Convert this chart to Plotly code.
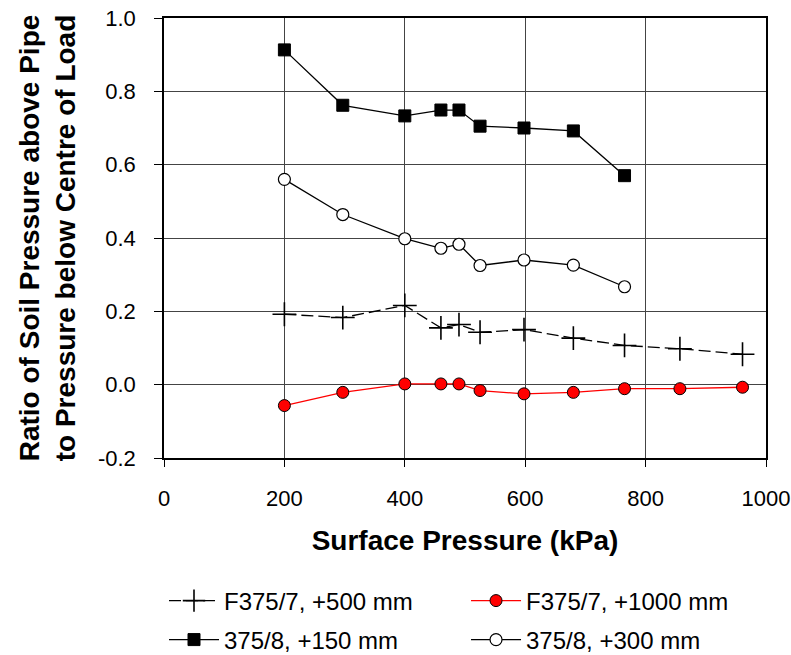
import plotly.graph_objects as go

x_plus = [200, 297, 400, 460, 490, 525, 598, 680, 765, 857, 961]
y_plus = [0.192, 0.183, 0.216, 0.155, 0.164, 0.143, 0.150, 0.127, 0.107, 0.098, 0.083]

x_red = [200, 297, 400, 460, 490, 525, 598, 680, 765, 857, 961]
y_red = [-0.057, -0.021, 0.002, 0.002, 0.002, -0.016, -0.025, -0.021, -0.011, -0.011, -0.007]

x_sq = [200, 297, 400, 460, 490, 525, 598, 680, 765]
y_sq = [0.913, 0.762, 0.733, 0.749, 0.749, 0.705, 0.700, 0.692, 0.570]

x_circ = [200, 297, 400, 460, 490, 525, 598, 680, 765]
y_circ = [0.560, 0.464, 0.398, 0.372, 0.383, 0.325, 0.340, 0.326, 0.267]

names = ["F375/7, +500 mm", "F375/7, +1000 mm", "375/8, +150 mm", "375/8, +300 mm"]

x_ticks = [0, 200, 400, 600, 800, 1000]
y_ticks = [-0.2, 0.0, 0.2, 0.4, 0.6, 0.8, 1.0]
y_ticktext = ["-0.2", "0.0", "0.2", "0.4", "0.6", "0.8", "1.0"]

FONT = "Liberation Sans, Arial, sans-serif"

fig = go.Figure()
fig.add_trace(go.Scatter(x=x_plus, y=y_plus, name=names[0], mode="lines+markers", legend="legend",
                         line=dict(color="black", width=1.3, dash="12px,5px"),
                         marker=dict(symbol="cross-thin", size=17, line=dict(color="black", width=1.6))))
fig.add_trace(go.Scatter(x=x_red, y=y_red, name=names[1], mode="lines+markers", legend="legend2",
                         line=dict(color="red", width=1.3),
                         marker=dict(symbol="circle", size=12, color="red", line=dict(color="black", width=1))))
fig.add_trace(go.Scatter(x=x_sq, y=y_sq, name=names[2], mode="lines+markers", legend="legend3",
                         line=dict(color="black", width=1.3),
                         marker=dict(symbol="square", size=12, color="black", line=dict(color="black", width=1))))
fig.add_trace(go.Scatter(x=x_circ, y=y_circ, name=names[3], mode="lines+markers", legend="legend4",
                         line=dict(color="black", width=1.3),
                         marker=dict(symbol="circle", size=12, color="white", line=dict(color="black", width=1.2))))

legend_common = dict(orientation="h", xanchor="left", yanchor="middle",
                     font=dict(size=24, family=FONT), itemwidth=50, bgcolor="rgba(0,0,0,0)")

row1_y, row2_y = -0.325, -0.4136
col1_x, col2_x = 0.0, 0.5017

fig.update_layout(
    width=791, height=655,
    margin=dict(l=164, r=25, t=18, b=197, autoexpand=False),
    plot_bgcolor="white", paper_bgcolor="white",
    font=dict(family=FONT, size=21, color="black"),
    xaxis=dict(range=[0, 1000], tickvals=x_ticks, ticks="outside", ticklen=7,
               tickcolor="black", showgrid=True, gridcolor="#444444", gridwidth=1,
               showline=True, linecolor="black", linewidth=1.5, mirror=True, zeroline=False,
               ticklabelstandoff=13,
               title=dict(text="<b>Surface Pressure (kPa)</b>", font=dict(size=28), standoff=20),
               tickfont=dict(size=22)),
    yaxis=dict(range=[-0.2, 1.0], tickvals=y_ticks, ticktext=y_ticktext,
               ticks="outside", ticklen=8, tickcolor="black",
               showgrid=True, gridcolor="#444444", gridwidth=1,
               showline=True, linecolor="black", linewidth=1.5, mirror=True, zeroline=False,
               ticklabelstandoff=14,
               title=dict(text="<b>Ratio of Soil Pressure above Pipe<br>to Pressure below Centre of Load</b>",
                          font=dict(size=28), standoff=14),
               tickfont=dict(size=22)),
    legend=dict(x=col1_x, y=row1_y, **legend_common),
    legend2=dict(x=col2_x, y=row1_y, **legend_common),
    legend3=dict(x=col1_x, y=row2_y, **legend_common),
    legend4=dict(x=col2_x, y=row2_y, **legend_common),
    showlegend=True,
)

fig.write_html("out.html")
